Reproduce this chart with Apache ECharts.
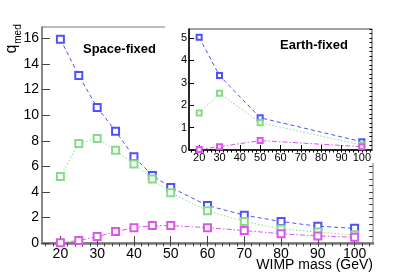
<!DOCTYPE html>
<html>
<head>
<meta charset="utf-8">
<script src="https://cdn.jsdelivr.net/npm/echarts@6/dist/echarts.min.js"></script>
<style>html,body{margin:0;padding:0;background:#fff}#c{width:415px;height:276px}</style>
</head>
<body>
<div id="c"></div>
<script>
// ---- data ----
const massMain = [20, 25, 30, 35, 40, 45, 50, 60, 70, 80, 90, 100];
const spaceBlue = [15.95, 13.1, 10.6, 8.75, 6.74, 5.29, 4.35, 2.93, 2.18, 1.68, 1.31, 1.15];
const spaceGreen = [5.21, 7.78, 8.18, 7.26, 6.19, 5.0, 3.93, 2.52, 1.68, 1.1, 0.86, 0.63];
const spaceMagenta = [0.02, 0.2, 0.5, 0.89, 1.2, 1.36, 1.36, 1.2, 0.97, 0.73, 0.55, 0.45];
const massInset = [20, 30, 50, 100];
const earthBlue = [5.03, 3.32, 1.44, 0.37];
const earthGreen = [1.65, 2.53, 1.22, 0.22];
const earthMagenta = [0.02, 0.15, 0.42, 0.15];
const xTickLabels = [20, 30, 40, 50, 60, 70, 80, 90, 100];
const yTickMain = [0, 2, 4, 6, 8, 10, 12, 14, 16];
const yTickInset = [0, 1, 2, 3, 4, 5];

function range(a, b, s) { const r = []; for (let v = a; v <= b + 1e-9; v += s) r.push(+v.toFixed(3)); return r; }
const pairs = (xs, ys) => xs.map((x, i) => [x, ys[i]]);

const BLUE = '#5050ff', GREEN = '#86dc86', MAG = '#dd55ee';
const FONT = 'Liberation Sans, Arial, sans-serif';

const chart = echarts.init(document.getElementById('c'), null, { renderer: 'canvas' });

function mkSeries(name, data, color, dash, xi, yi, size, z) {
  return {
    type: 'line', name, data, xAxisIndex: xi, yAxisIndex: yi,
    symbol: 'emptyRect', symbolSize: size, z: z,
    itemStyle: { color: color, borderColor: color, borderWidth: 1 },
    lineStyle: { color: color, width: 1, type: dash },
    animation: false
  };
}

const option = {
  animation: false,
  grid: [
    { left: 42, top: 27, right: 42, bottom: 33, show: true, borderColor: '#777', borderWidth: 1, backgroundColor: 'transparent' },
    { left: 189, top: 29, right: 43, bottom: 126, show: true, borderColor: '#444', borderWidth: 1, backgroundColor: '#fff', z: 6 }
  ],
  xAxis: [
    { type: 'value', gridIndex: 0, min: 15, max: 105,
      axisLine: { show: true, lineStyle: { color: '#777', width: 2.5 } },
      axisTick: { show: true, inside: true, length: 7, customValues: xTickLabels, lineStyle: { color: '#444' } },
      axisLabel: { customValues: xTickLabels, fontSize: 14, color: '#000', fontFamily: FONT, margin: 4 },
      splitLine: { show: false } },
    { type: 'value', gridIndex: 0, min: 15, max: 105,
      axisLine: { show: false },
      axisTick: { show: true, inside: true, length: 3.5, customValues: range(16, 104, 2), lineStyle: { color: '#444' } },
      axisLabel: { show: false }, splitLine: { show: false } },
    { type: 'value', gridIndex: 1, min: 15, max: 105, z: 7,
      axisLine: { show: true, lineStyle: { color: '#000', width: 1.5 } },
      axisTick: { show: true, inside: true, length: 5, customValues: xTickLabels, lineStyle: { color: '#000' } },
      axisLabel: { customValues: xTickLabels, fontSize: 11, color: '#000', fontFamily: FONT, margin: 2 },
      splitLine: { show: false } },
    { type: 'value', gridIndex: 1, min: 15, max: 105, z: 7,
      axisLine: { show: false },
      axisTick: { show: true, inside: true, length: 2.5, customValues: range(16, 104, 2), lineStyle: { color: '#000' } },
      axisLabel: { show: false }, splitLine: { show: false } }
  ],
  yAxis: [
    { type: 'value', gridIndex: 0, min: 0, max: 16.9,
      axisLine: { show: true, lineStyle: { color: '#777', width: 1.5 } },
      axisTick: { show: true, inside: true, length: 8, customValues: yTickMain, lineStyle: { color: '#444' } },
      axisLabel: { customValues: yTickMain, fontSize: 14, color: '#000', fontFamily: FONT, margin: 3 },
      splitLine: { show: false } },
    { type: 'value', gridIndex: 0, min: 0, max: 16.9,
      axisLine: { show: false },
      axisTick: { show: true, inside: true, length: 4, customValues: range(0.5, 16.5, 0.5), lineStyle: { color: '#444' } },
      axisLabel: { show: false }, splitLine: { show: false } },
    { type: 'value', gridIndex: 1, min: 0, max: 5.4, z: 7,
      axisLine: { show: true, lineStyle: { color: '#000', width: 1.5 } },
      axisTick: { show: true, inside: true, length: 5, customValues: yTickInset, lineStyle: { color: '#000' } },
      axisLabel: { customValues: yTickInset, fontSize: 11, color: '#000', fontFamily: FONT, margin: 2 },
      splitLine: { show: false } },
    { type: 'value', gridIndex: 1, min: 0, max: 5.4, z: 7,
      axisLine: { show: false },
      axisTick: { show: true, inside: true, length: 2.5, customValues: range(0.2, 5.4, 0.2), lineStyle: { color: '#000' } },
      axisLabel: { show: false }, splitLine: { show: false } }
  ],
  series: [
    mkSeries('space-blue', pairs(massMain, spaceBlue), BLUE, [4, 3], 0, 0, 7, 2),
    mkSeries('space-green', pairs(massMain, spaceGreen), GREEN, [1.5, 2], 0, 0, 7, 2),
    mkSeries('space-mag', pairs(massMain, spaceMagenta), MAG, [5, 2, 1.5, 2], 0, 0, 7, 2),
    mkSeries('earth-blue', pairs(massInset, earthBlue), BLUE, [4, 3], 2, 2, 5, 8),
    mkSeries('earth-green', pairs(massInset, earthGreen), GREEN, [1.5, 2], 2, 2, 5, 8),
    mkSeries('earth-mag', pairs(massInset, earthMagenta), MAG, [5, 2, 1.5, 2], 2, 2, 5, 8)
  ],
  graphic: [
    { type: 'rect', z: 5, shape: { x: 165, y: 0, width: 250, height: 163 }, style: { fill: '#fff' } },
    { type: 'text', z: 9, left: 83, top: 43, style: { text: 'Space-fixed', font: 'bold 13px ' + FONT, fill: '#000' } },
    { type: 'text', z: 9, left: 280, top: 39, style: { text: 'Earth-fixed', font: 'bold 13px ' + FONT, fill: '#000' } },
    { type: 'text', z: 9, x: 373, y: 265, style: { text: 'WIMP mass (GeV)', font: '14px ' + FONT, fill: '#000', align: 'right', verticalAlign: 'middle' } },
    { type: 'text', z: 9, x: 12, y: 49, rotation: Math.PI / 2, style: { text: 'q', font: '16px ' + FONT, fill: '#000', align: 'center', verticalAlign: 'middle' } },
    { type: 'text', z: 9, x: 18, y: 34, rotation: Math.PI / 2, style: { text: 'med', font: '10px ' + FONT, fill: '#000', align: 'center', verticalAlign: 'middle' } }
  ]
};
chart.setOption(option);
</script>
</body>
</html>
